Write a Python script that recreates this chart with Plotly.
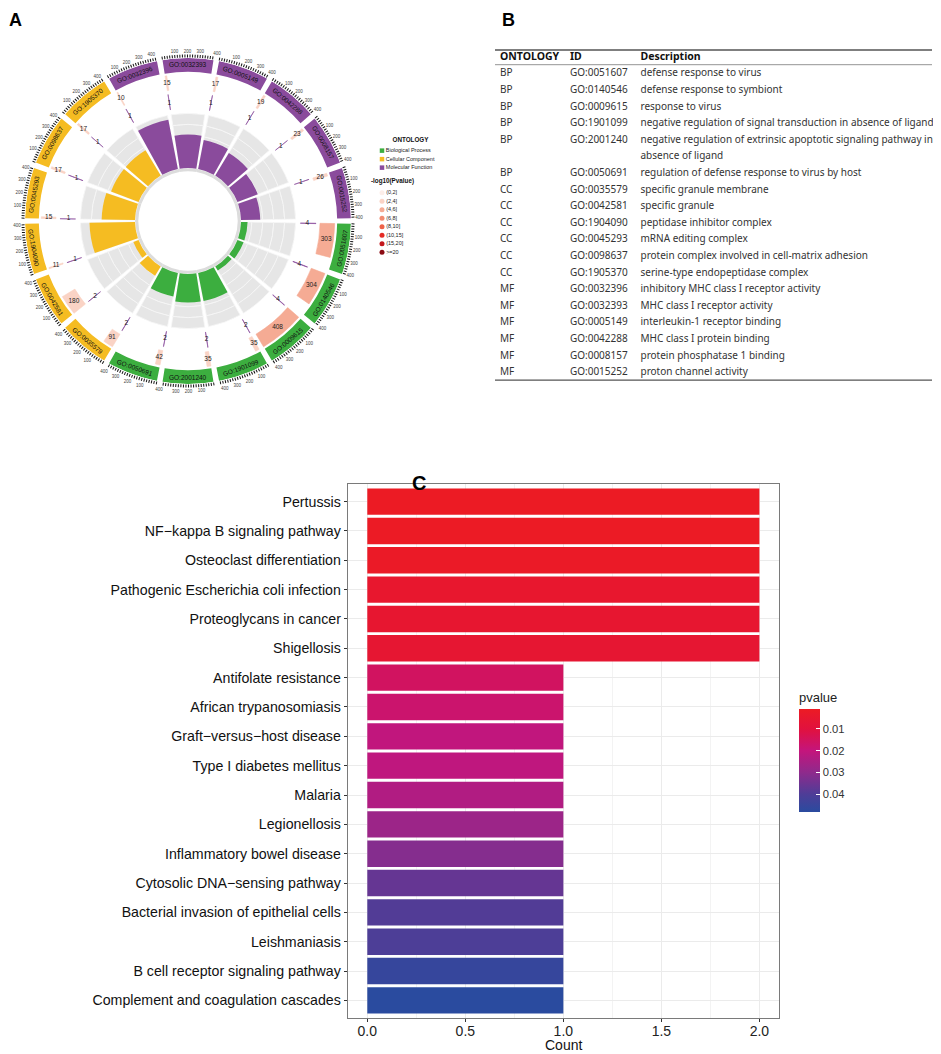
import math
import textwrap
import plotly.graph_objects as go

# the page body keeps its default 8 px margin, so the figure starts at (8, 8) in the window
OFF = 8
FW, FH = 941 - OFF, 1054 - OFF
ARIAL = 'Liberation Sans, Arial, sans-serif'
NOTO = 'Noto Sans, sans-serif'


def px(sx):
    return (sx - OFF) / FW


def py(sy):
    return 1 - (sy - OFF) / FH


# ---- GO enrichment (panels A and B) ----
go_ontology = ['BP', 'BP', 'BP', 'BP', 'BP', 'BP',
               'CC', 'CC', 'CC', 'CC', 'CC', 'CC',
               'MF', 'MF', 'MF', 'MF', 'MF', 'MF']
go_ids = ['GO:0051607', 'GO:0140546', 'GO:0009615', 'GO:1901099', 'GO:2001240', 'GO:0050691',
          'GO:0035579', 'GO:0042581', 'GO:1904090', 'GO:0045293', 'GO:0098637', 'GO:1905370',
          'GO:0032396', 'GO:0032393', 'GO:0005149', 'GO:0042288', 'GO:0008157', 'GO:0015252']
go_desc = ['defense response to virus',
           'defense response to symbiont',
           'response to virus',
           'negative regulation of signal transduction in absence of ligand',
           'negative regulation of extrinsic apoptotic signaling pathway in absence of ligand',
           'regulation of defense response to virus by host',
           'specific granule membrane',
           'specific granule',
           'peptidase inhibitor complex',
           'mRNA editing complex',
           'protein complex involved in cell-matrix adhesion',
           'serine-type endopeptidase complex',
           'inhibitory MHC class I receptor activity',
           'MHC class I receptor activity',
           'interleukin-1 receptor binding',
           'MHC class I protein binding',
           'protein phosphatase 1 binding',
           'proton channel activity']
go_genes = [303, 304, 408, 35, 35, 42, 91, 180, 11, 15, 17, 17, 10, 15, 17, 19, 23, 26]
go_select = [4, 4, 4, 2, 2, 2, 2, 2, 1, 1, 1, 1, 1, 1, 1, 1, 1, 1]
go_plevel = ['(4,6]', '(4,6]', '(4,6]', '(2,4]', '(2,4]', '(2,4]', '(2,4]', '(2,4]', '(2,4]',
             '(2,4]', '(2,4]', '(2,4]', '(2,4]', '(2,4]', '(2,4]', '(2,4]', '(2,4]', '(2,4]']

pv_bins = ['(0,2]', '(2,4]', '(4,6]', '(6,8]', '(8,10]', '(10,15]', '(15,20]', '>=20']

# ---- KEGG enrichment (panel C) ----
kegg_terms = ['Pertussis', 'NF\u2212kappa B signaling pathway', 'Osteoclast differentiation',
              'Pathogenic Escherichia coli infection', 'Proteoglycans in cancer', 'Shigellosis',
              'Antifolate resistance', 'African trypanosomiasis', 'Graft\u2212versus\u2212host disease',
              'Type I diabetes mellitus', 'Malaria', 'Legionellosis', 'Inflammatory bowel disease',
              'Cytosolic DNA\u2212sensing pathway', 'Bacterial invasion of epithelial cells',
              'Leishmaniasis', 'B cell receptor signaling pathway', 'Complement and coagulation cascades']
kegg_count = [2, 2, 2, 2, 2, 2, 1, 1, 1, 1, 1, 1, 1, 1, 1, 1, 1, 1]
kegg_pvalue = [0.0008, 0.0012, 0.0018, 0.0045, 0.0052, 0.0056, 0.0155, 0.0175, 0.0205,
               0.0210, 0.0235, 0.0275, 0.0315, 0.0365, 0.0395, 0.0405, 0.0455, 0.0483]

# styles
ont_color = {'BP': '#3cae3f', 'CC': '#f5bc22', 'MF': '#8a4b9c'}
ont_name = {'BP': 'Biological Process', 'CC': 'Cellular Component', 'MF': 'Molecular Function'}
pv_color = dict(zip(pv_bins, ['#fdeee9', '#fad3c5', '#f5ab94', '#f28b70',
                              '#ee6248', '#e42b25', '#c3161c', '#8b0b13']))
p_scale = [[0, '#2a4b9f'], [0.175, '#4f3d97'], [0.385, '#8f2a8c'],
           [0.596, '#c4157c'], [0.806, '#e1113e'], [1, '#ec1b24']]

fig = go.Figure()

# ================= panel A : circle =================
CX, CY, R = 188, 221, 163          # circle centre / radius, window px
n = len(go_ids)
STEP = 360 / n
GAP = 2.0
SPAN = STEP - GAP
XMAX = max(go_genes)
starts = [k * STEP + GAP / 2 for k in range(n)]
mids = [s + SPAN / 2 for s in starts]


def sector_theta(k, x):
    return starts[k] + x / XMAX * SPAN


R_IN = (0.305, 0.325)
R_RICH = (0.325, 0.66)
R_SEL = (0.69, 0.785)
R_GENE = (0.81, 0.90)
R_BAND = (0.915, 1.0)

# thin inner circle
fig.add_trace(go.Barpolar(theta=[k * STEP + STEP / 2 for k in range(n)], width=[STEP] * n,
                          base=[R_IN[0]] * n, r=[R_IN[1] - R_IN[0]] * n,
                          marker=dict(color='#dcdcdc', line=dict(width=0)), hoverinfo='skip'))
# grey background of the rich factor track, with light grid
n_grid = 5
dr = (R_RICH[1] - R_RICH[0]) / n_grid
for j in range(n_grid):
    fig.add_trace(go.Barpolar(theta=mids, width=[SPAN] * n, base=[R_RICH[0] + j * dr] * n, r=[dr] * n,
                              marker=dict(color='#e6e6e6', line=dict(color='#f6f6f6', width=0.8)),
                              hoverinfo='skip'))
# rich factor
rich = [s / g for s, g in zip(go_select, go_genes)]
rich_top = max(rich) * 1.09
fig.add_trace(go.Barpolar(theta=mids, width=[SPAN] * n, base=[R_RICH[0]] * n,
                          r=[v / rich_top * (R_RICH[1] - R_RICH[0]) for v in rich],
                          marker=dict(color=[ont_color[o] for o in go_ontology], line=dict(width=0))))
# number of select
fig.add_trace(go.Barpolar(theta=[sector_theta(k, go_select[k] / 2) for k in range(n)],
                          width=[go_select[k] / XMAX * SPAN for k in range(n)],
                          base=[R_SEL[0]] * n, r=[R_SEL[1] - R_SEL[0]] * n,
                          marker=dict(color='#8a4b9c', line=dict(color='#8a4b9c', width=0.6))))
# number of genes
gene_cols = [pv_color[p] for p in go_plevel]
fig.add_trace(go.Barpolar(theta=[sector_theta(k, go_genes[k] / 2) for k in range(n)],
                          width=[go_genes[k] / XMAX * SPAN for k in range(n)],
                          base=[R_GENE[0]] * n, r=[R_GENE[1] - R_GENE[0]] * n,
                          marker=dict(color=gene_cols, line=dict(color=gene_cols, width=0.6))))
# outer ontology band
fig.add_trace(go.Barpolar(theta=mids, width=[SPAN] * n, base=[R_BAND[0]] * n, r=[R_BAND[1] - R_BAND[0]] * n,
                          marker=dict(color=[ont_color[o] for o in go_ontology], line=dict(width=0))))
# value labels
fig.add_trace(go.Scatterpolar(r=[sum(R_GENE) / 2] * n,
                              theta=[sector_theta(k, go_genes[k] / 2) for k in range(n)],
                              mode='text', text=[str(g) for g in go_genes],
                              textfont=dict(family=ARIAL, size=6.5, color='#222')))
fig.add_trace(go.Scatterpolar(r=[sum(R_SEL) / 2 - 0.005] * n,
                              theta=[sector_theta(k, go_select[k] / 2) for k in range(n)],
                              mode='text', text=[str(s) for s in go_select],
                              textfont=dict(family=ARIAL, size=6.5, color='#222')))

tick_vals, tick_text = [], []
for k in range(n):
    for x in range(0, 401, 20):
        tick_vals.append(sector_theta(k, x))
        tick_text.append(str(x) if x in (100, 200, 300, 400) else '')

annotations = []
r_lab = sum(R_BAND) / 2 * R
for k in range(n):
    th = mids[k]
    ang = th - 270 if th >= 180 else th - 90
    annotations.append(dict(
        x=px(CX + r_lab * math.cos(math.radians(th))),
        y=py(CY + r_lab * math.sin(math.radians(th))),
        xref='paper', yref='paper', text=go_ids[k], textangle=ang, showarrow=False,
        xanchor='center', yanchor='middle', font=dict(family=ARIAL, size=6.5, color='#111')))

# side legend of panel A (own little axis, rows of 8.5 px)
ont_keys = ['BP', 'CC', 'MF']
ont_rows = [1.25 + i for i in range(3)]
pv_title_row = ont_rows[-1] + 1.65
pv_rows = [pv_title_row + 1.3 + i for i in range(len(pv_bins))]
fig.add_trace(go.Scatter(x=[382] * 3, y=ont_rows, mode='markers+text', xaxis='x2', yaxis='y2',
                         marker=dict(symbol='square', size=4.5, color=[ont_color[o] for o in ont_keys]),
                         text=[ont_name[o] for o in ont_keys], textposition='middle right',
                         textfont=dict(family=ARIAL, size=5.5, color='#222'), cliponaxis=False))
fig.add_trace(go.Scatter(x=[382] * len(pv_bins), y=pv_rows, mode='markers+text', xaxis='x2', yaxis='y2',
                         marker=dict(symbol='circle', size=5, color=[pv_color[b] for b in pv_bins]),
                         text=pv_bins, textposition='middle right',
                         textfont=dict(family=ARIAL, size=5.5, color='#222'), cliponaxis=False))
fig.add_trace(go.Scatter(x=[410.5, 392.5], y=[0, pv_title_row], mode='text', xaxis='x2', yaxis='y2',
                         text=['<b>ONTOLOGY</b>', '<b>-log10(Pvalue)</b>'],
                         textfont=dict(family=ARIAL, size=6.3, color='#111'), cliponaxis=False))

# centre legend of the circle
inner_labels = ['Number of Genes', 'Number of Select', 'Rich Factor(0\u22121)']
fig.add_trace(go.Scatter(x=[160] * 3, y=[214 + 6.65 * i for i in range(3)], mode='markers+text',
                         xaxis='x3', yaxis='y3',
                         marker=dict(symbol=['square', 'square', 'triangle-up'], size=[4.5, 4.5, 5],
                                     color=['#f6c6cc', '#8a4b9c', '#3cae3f']),
                         text=inner_labels, textposition='middle right',
                         textfont=dict(family=ARIAL, size=6.2, color='#222'), cliponaxis=False))

# ================= panel B : table =================
tb_ont, tb_id, tb_desc = [], [], []
for o, gid, d in zip(go_ontology, go_ids, go_desc):
    for j, line in enumerate(textwrap.wrap(d, 64)):
        tb_ont.append(o if j == 0 else '')
        tb_id.append(gid if j == 0 else '')
        tb_desc.append(line.replace(' ', '\u00a0'))

TB_LEFT, TB_RIGHT = 495, 932
TB_RULE_TOP, TB_RULE_HEAD, ROW_H = 50, 64.7, 16.6
TB_TOP, HEAD_H = 44.6, 16.2
fig.add_trace(go.Table(
    domain=dict(x=[px(492), 1.0], y=[py(440), py(TB_TOP)]),
    columnwidth=[70, 70.7, 309],
    header=dict(values=['ONTOLOGY', 'ID', 'Description'], align='left', height=HEAD_H,
                font=dict(family=NOTO, size=10.5, color='#111', weight='bold'),
                fill=dict(color='rgba(0,0,0,0)'), line=dict(color='rgba(0,0,0,0)', width=1)),
    cells=dict(values=[tb_ont, tb_id, tb_desc], align='left', height=ROW_H,
               font=dict(family=NOTO, size=10, color='#333'),
               fill=dict(color='rgba(0,0,0,0)'), line=dict(color='rgba(0,0,0,0)', width=1))))

rule_bottom = TB_RULE_HEAD + ROW_H * len(tb_desc)
shapes = []
for yy, col, lw in [(TB_RULE_TOP, '#555', 1.6), (TB_RULE_HEAD, '#888', 0.9), (rule_bottom, '#555', 1.3)]:
    shapes.append(dict(type='line', xref='paper', yref='paper', x0=px(TB_LEFT), x1=px(TB_RIGHT),
                       y0=py(yy), y1=py(yy), line=dict(color=col, width=lw)))

# ================= panel C : KEGG bars =================
fig.add_trace(go.Bar(
    x=kegg_count, y=kegg_terms, orientation='h', xaxis='x', yaxis='y',
    marker=dict(color=[-p for p in kegg_pvalue], colorscale=p_scale,
                cmin=-max(kegg_pvalue), cmax=-min(kegg_pvalue), line=dict(width=0),
                colorbar=dict(x=px(799), xanchor='left', y=py(812), yanchor='bottom',
                              len=123, lenmode='pixels', thickness=21, xpad=0, ypad=0,
                              outlinewidth=0, ticks='inside', ticklen=4, tickcolor='white',
                              tickvals=[-0.04, -0.03, -0.02, -0.01],
                              ticktext=['0.04', '0.03', '0.02', '0.01'],
                              tickfont=dict(family=ARIAL, size=11.2, color='#333'),
                              title=dict(text='pvalue', side='top',
                                         font=dict(family=ARIAL, size=13, color='#222'))))))

# x axis title sits right under the tick labels, as in ggplot
annotations.append(dict(x=0.5, y=py(1045), xref='x domain', yref='paper', text='Count', showarrow=False,
                        xanchor='center', yanchor='middle', font=dict(family=ARIAL, size=14, color='#111')))

for lab, lx, ly, sz in [('A', 15.5, 19.5, 18), ('B', 508, 19.5, 18), ('C', 419, 483, 20)]:
    annotations.append(dict(x=px(lx), y=py(ly), xref='paper', yref='paper', text='<b>%s</b>' % lab,
                            showarrow=False, xanchor='center', yanchor='middle',
                            font=dict(family=ARIAL, size=sz, color='#000')))

fig.update_layout(
    template='none', width=FW, height=FH, margin=dict(l=0, r=0, t=0, b=0),
    paper_bgcolor='white', plot_bgcolor='white', showlegend=False,
    font=dict(family=ARIAL, color='#222'),
    polar=dict(domain=dict(x=[px(CX - R), px(CX + R)], y=[py(CY + R), py(CY - R)]),
               bgcolor='white', barmode='overlay', hole=0,
               radialaxis=dict(visible=False, range=[0, 1]),
               angularaxis=dict(direction='clockwise', rotation=0, showgrid=False, showline=False,
                                ticks='outside', ticklen=3, tickwidth=0.6, tickcolor='#111',
                                tickmode='array', tickvals=tick_vals, ticktext=tick_text,
                                tickfont=dict(family=ARIAL, size=4.5, color='#444'))),
    xaxis=dict(domain=[px(347.7), px(779)], anchor='y', range=[-0.1, 2.1],
               tickvals=[0, 0.5, 1, 1.5, 2], tickformat='.1f', showgrid=True, gridcolor='#ebebeb',
               gridwidth=1.1, minor=dict(tickvals=[0.25, 0.75, 1.25, 1.75], showgrid=True,
                                         gridcolor='#f3f3f3', gridwidth=0.6),
               showline=True, mirror=True, linecolor='#7a7a7a', linewidth=1, zeroline=False,
               ticks='outside', ticklen=3, tickcolor='#333', ticklabelstandoff=-3,
               tickfont=dict(family=ARIAL, size=14, color='#222')),
    yaxis=dict(domain=[py(1018), py(484)], anchor='x', type='category',
               categoryorder='array', categoryarray=kegg_terms,
               range=[len(kegg_terms) - 0.4, -0.6], showgrid=True, gridcolor='#ebebeb', gridwidth=1.1,
               showline=True, mirror=True, linecolor='#7a7a7a', linewidth=1, zeroline=False,
               ticks='outside', ticklen=3, tickcolor='#333',
               tickfont=dict(family=ARIAL, size=14.2, color='#111')),
    xaxis2=dict(domain=[px(360), px(455)], range=[360, 455], anchor='y2', visible=False),
    yaxis2=dict(domain=[py(262), py(132)], range=[(262 - 140) / 8.5, (132 - 140) / 8.5],
                anchor='x2', visible=False),
    xaxis3=dict(domain=[px(150), px(230)], range=[150, 230], anchor='y3', visible=False),
    yaxis3=dict(domain=[py(234), py(207)], range=[234, 207], anchor='x3', visible=False),
    bargap=0.1,
    annotations=annotations,
    shapes=shapes,
)

fig.write_html("out.html")
